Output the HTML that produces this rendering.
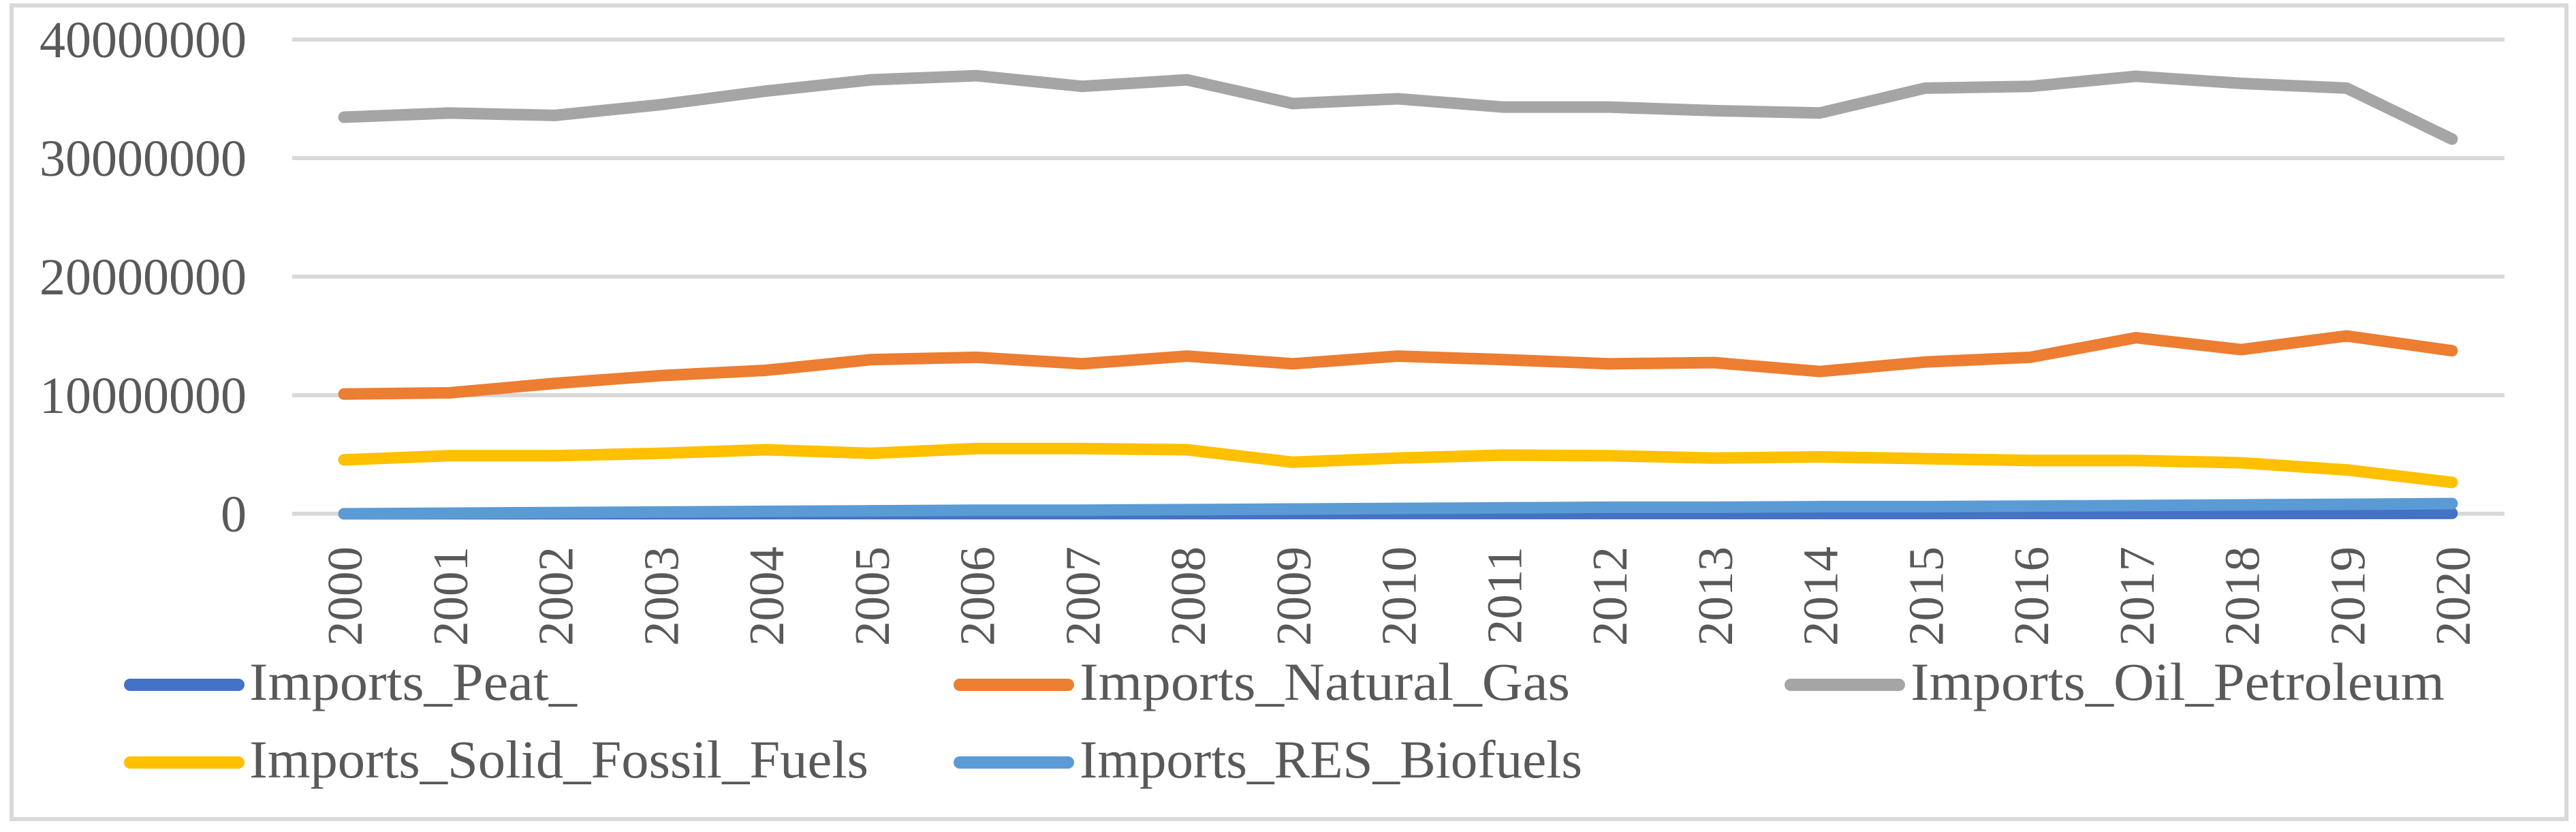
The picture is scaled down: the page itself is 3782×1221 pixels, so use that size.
<!DOCTYPE html>
<html><head><meta charset="utf-8"><style>
html,body{margin:0;padding:0;background:#fff;}
svg{display:block;}
text{font-family:"Liberation Serif",serif;fill:#595959;}
</style></head><body>
<svg id="chart" width="3782" height="1221" viewBox="0 0 3782 1221" xmlns="http://www.w3.org/2000/svg">
<rect x="17" y="8" width="3751" height="1194" fill="#fff" stroke="#d9d9d9" stroke-width="6"/>
<g id="grid"></g><g id="ylab"></g><g id="xlab"></g><g id="series"></g><g id="legend"></g>
</svg>
<script>
const years = ["2000","2001","2002","2003","2004","2005","2006","2007","2008","2009","2010","2011","2012","2013","2014","2015","2016","2017","2018","2019","2020"];
const yTicks = [0,10000000,20000000,30000000,40000000];
const peat = [0,5000,8000,10000,12000,14000,15000,16000,17000,18000,20000,20000,22000,22000,24000,25000,26000,28000,30000,32000,35000];
const gas = [10100000,10200000,11000000,11650000,12100000,13000000,13200000,12650000,13300000,12650000,13300000,13000000,12650000,12750000,12000000,12800000,13200000,14850000,13850000,15000000,13750000];
const oil = [33450000,33800000,33600000,34500000,35650000,36600000,36950000,36050000,36600000,34600000,35000000,34300000,34300000,34000000,33800000,35900000,36050000,36900000,36300000,35900000,31600000];
const solid = [4550000,4900000,4900000,5100000,5400000,5100000,5500000,5500000,5400000,4350000,4700000,4950000,4900000,4700000,4800000,4650000,4500000,4500000,4300000,3700000,2650000];
const res = [0,50000,100000,150000,200000,250000,300000,300000,350000,400000,450000,500000,550000,550000,600000,600000,650000,700000,750000,800000,860000];

const NS="http://www.w3.org/2000/svg";
const X0=505,X1=3600,Y0=754,Y1=58,YMAX=40000000;
function xs(i){return X0+(X1-X0)*i/(years.length-1);}
function ys(v){return Y0-(Y0-Y1)*v/YMAX;}
function mk(tag,attrs,parent){const e=document.createElementNS(NS,tag);for(const k in attrs)e.setAttribute(k,attrs[k]);parent.appendChild(e);return e;}
const grid=document.getElementById('grid'),ylab=document.getElementById('ylab'),xlab=document.getElementById('xlab'),ser=document.getElementById('series'),leg=document.getElementById('legend');
yTicks.forEach(v=>{
  const l=mk('line',{x1:429,x2:3677,y1:ys(v),y2:ys(v),stroke:'#d9d9d9','stroke-width':6},grid);
  
  
  const t=mk('text',{x:362,y:ys(v)+26,'text-anchor':'end','font-size':76},ylab);
  t.textContent=String(v);
  
  
});
years.forEach((y,i)=>{
  const x=xs(i)+26;
  const t=mk('text',{x:x,y:802,'text-anchor':'end','font-size':73,transform:`rotate(-90 ${x} 802)`},xlab);
  t.textContent=y;
  
  
});
const S=[
 {n:'Imports_Peat_',d:peat,c:'#4472c4',id:'peat'},
 {n:'Imports_Natural_Gas',d:gas,c:'#ed7d31',id:'natural-gas'},
 {n:'Imports_Oil_Petroleum',d:oil,c:'#a5a5a5',id:'oil-petroleum'},
 {n:'Imports_Solid_Fossil_Fuels',d:solid,c:'#ffc000',id:'solid-fossil-fuels'},
 {n:'Imports_RES_Biofuels',d:res,c:'#5b9bd5',id:'res-biofuels'}
];
S.forEach(s=>{
  const p=mk('polyline',{points:s.d.map((v,i)=>xs(i)+','+ys(v)).join(' '),fill:'none',stroke:s.c,'stroke-width':17,'stroke-linecap':'round','stroke-linejoin':'round'},ser);
  
  
});
const L=[
 {i:0,lx:182,tx:366,y:1005,w:481},
 {i:1,lx:1400,tx:1585,y:1005,w:720},
 {i:2,lx:2620,tx:2805,y:1005,w:784},
 {i:3,lx:182,tx:366,y:1119,w:909},
 {i:4,lx:1400,tx:1585,y:1119,w:738}
];
L.forEach(o=>{
  const s=S[o.i];
  const g=mk('g',{},leg);
  
  
  mk('line',{x1:o.lx+9,x2:o.lx+168,y1:o.y,y2:o.y,stroke:s.c,'stroke-width':18,'stroke-linecap':'round'},g);
  const t=mk('text',{x:o.tx,y:o.y+22,'font-size':78,textLength:o.w,lengthAdjust:'spacingAndGlyphs'},g);
  t.textContent=s.n;
});
</script>
</body></html>
